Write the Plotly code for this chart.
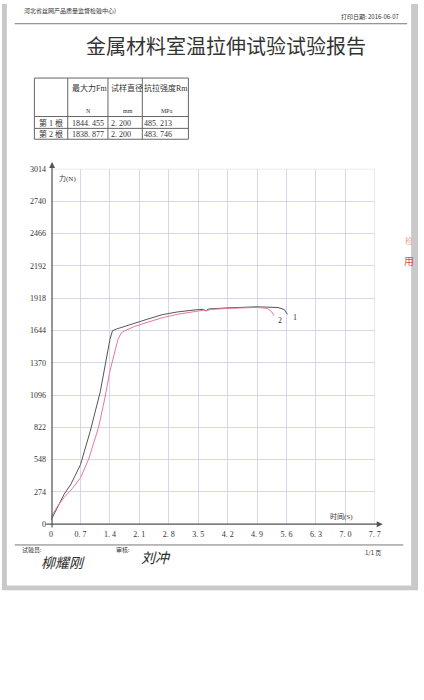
"""Tensile test report chart (force vs time) rebuilt with Plotly."""

import plotly.graph_objects as go

W, H = 424, 700

# --- data -------------------------------------------------------------
TIME_1 = [0, 0.15, 0.31, 0.47, 0.70, 0.93, 1.17, 1.40, 1.46, 1.55, 1.87, 2.30,
          2.64, 3.00, 3.43, 3.62, 3.68, 3.75, 4.20, 4.90, 5.40, 5.55, 5.62]
FORCE_1 = [36, 140, 254, 338, 505, 787, 1123, 1567, 1640, 1655, 1693, 1740,
           1777, 1800, 1818, 1822, 1810, 1826, 1835, 1844, 1838, 1820, 1780]

TIME_2 = [0, 0.15, 0.31, 0.50, 0.70, 0.89, 1.13, 1.28, 1.40, 1.59, 1.67, 1.75,
          2.00, 2.64, 3.00, 3.43, 3.62, 3.70, 3.80, 4.20, 4.90, 5.15, 5.25, 5.30]
FORCE_2 = [59, 150, 226, 300, 394, 548, 822, 1070, 1300, 1567, 1623, 1640,
           1680, 1751, 1780, 1804, 1815, 1810, 1822, 1830, 1839, 1830, 1800, 1770]

X_TICKS = [0, 0.7, 1.4, 2.1, 2.8, 3.5, 4.2, 4.9, 5.6, 6.3, 7.0, 7.7]
X_LABELS = ["0", "0. 7", "1. 4", "2. 1", "2. 8", "3. 5", "4. 2", "4. 9",
            "5. 6", "6. 3", "7. 0", "7. 7"]
Y_TICKS = [0, 274, 548, 822, 1096, 1370, 1644, 1918, 2192, 2466, 2740, 3014]

TABLE_HEAD = ["", "最大力Fm", "试样直径", "抗拉强度Rm"]
TABLE_UNITS = ["", "N", "mm", "MPa"]
TABLE_ROWS = [
    ["第 1 根", "1844. 455", "2. 200", "485. 213"],
    ["第 2 根", "1838. 877", "2. 200", "483. 746"],
]

CJK = "Noto Sans CJK SC"
SERIF = "Liberation Serif, Noto Sans CJK SC"
GRID = "#d6d6ee"
INK = "#333333"


def px(x):
    return x / W


def py(y):
    return 1 - y / H


fig = go.Figure()
fig.add_trace(go.Scatter(x=TIME_1, y=FORCE_1, mode="lines",
                         line=dict(color="#555555", width=1), name="1"))
fig.add_trace(go.Scatter(x=TIME_2, y=FORCE_2, mode="lines",
                         line=dict(color="#e07aa0", width=1), name="2"))

shapes = []
annotations = []

# page background / scan edges
shapes.append(dict(type="rect", xref="paper", yref="paper", x0=0, x1=1,
                   y0=py(594), y1=1, fillcolor="#c9c9c9", line_width=0, layer="below"))
shapes.append(dict(type="rect", xref="paper", yref="paper", x0=px(5), x1=px(417),
                   y0=py(589), y1=1, fillcolor="white", line_width=0, layer="below"))

# header line and footer line
shapes.append(dict(type="line", xref="paper", yref="paper", x0=px(13), x1=px(413),
                   y0=py(20), y1=py(20), line=dict(color="#777", width=1)))
shapes.append(dict(type="line", xref="paper", yref="paper", x0=px(13), x1=px(409),
                   y0=py(548), y1=py(548), line=dict(color="#777", width=1)))

# plot frame in grid colour
shapes.append(dict(type="rect", xref="x", yref="y", x0=0, x1=7.7, y0=0, y1=3014,
                   line=dict(color=GRID, width=1), layer="below"))

# table grid
tx = [33, 67, 108, 143, 190]
ty = [75, 114, 126, 137]
for x in tx:
    shapes.append(dict(type="line", xref="paper", yref="paper", x0=px(x), x1=px(x),
                       y0=py(ty[0]), y1=py(ty[-1]), line=dict(color="#666", width=1)))
for y in ty:
    shapes.append(dict(type="line", xref="paper", yref="paper", x0=px(tx[0]), x1=px(tx[-1]),
                       y0=py(y), y1=py(y), line=dict(color="#666", width=1)))


def text(x, y, s, size=8, xanchor="left", font=CJK, color=INK):
    annotations.append(dict(x=px(x), y=py(y), xref="paper", yref="paper", text=s,
                            showarrow=False, xanchor=xanchor, yanchor="middle",
                            font=dict(family=font, size=size, color=color)))


# header texts
text(20, 7, "河北省丝网产品质量监督检验中心)", size=6)
text(407, 13, "打印日期: 2016-06-07", size=6, xanchor="right")
text(228, 42, "金属材料室温拉伸试验试验报告", size=20, xanchor="center")

# table texts
head_x = [36, 69, 109, 143]
unit_x = [50, 88, 128, 168]
for i, s in enumerate(TABLE_HEAD):
    if s:
        text(head_x[i], 85, s, size=8, font=SERIF)
for i, s in enumerate(TABLE_UNITS):
    if s:
        text(unit_x[i], 108, s, size=6, xanchor="center", font=SERIF)
for r, row in enumerate(TABLE_ROWS):
    for i, s in enumerate(row):
        text(head_x[i], 121 + r * 11, s, size=8, font=SERIF)

# axis titles and curve labels
text(56, 177, "力(N)", size=7, font=SERIF)
text(332, 519, "时间(S)", size=7, font=SERIF)
annotations.append(dict(x=TIME_1[-1] + 0.08, y=FORCE_1[-1] - 30, xref="x", yref="y",
                        text="1", showarrow=False, xanchor="left",
                        font=dict(family=SERIF, size=8, color=INK)))
annotations.append(dict(x=TIME_2[-1] + 0.05, y=FORCE_2[-1] - 40, xref="x", yref="y",
                        text="2", showarrow=False, xanchor="left",
                        font=dict(family=SERIF, size=8, color=INK)))

# axis lines with arrow heads
annotations.append(dict(x=px(51), y=py(160), xref="paper", yref="paper", text="",
                        showarrow=True, ax=0, ay=367, arrowhead=2, arrowsize=1,
                        arrowwidth=1.2, arrowcolor="#555"))
annotations.append(dict(x=px(388), y=py(527), xref="paper", yref="paper", text="",
                        showarrow=True, ax=-338, ay=0, arrowhead=2, arrowsize=1,
                        arrowwidth=1.2, arrowcolor="#555"))

# footer
text(18, 553, "试验员:", size=6)
text(38, 565, "<i>柳耀刚</i>", size=14, color="#2a2a2a")
text(114, 553, "审核:", size=6)
text(140, 560, "<i>刘冲</i>", size=14, color="#2a2a2a")
text(388, 556, "1/1 页", size=6, xanchor="right")

# partial red stamp on the right edge
text(415, 260, "用", size=10, color="#e05050", xanchor="center")
text(415, 240, "检", size=8, color="#f0a0a0", xanchor="center")

fig.update_layout(
    width=W, height=H,
    margin=dict(l=0, r=0, t=0, b=0),
    paper_bgcolor="white", plot_bgcolor="white",
    showlegend=False,
    shapes=shapes, annotations=annotations,
    xaxis=dict(domain=[px(50), px(380)], range=[0, 7.7], tickvals=X_TICKS,
               ticktext=X_LABELS, showgrid=True, gridcolor=GRID, gridwidth=1,
               zeroline=False, showline=False, ticks="", ticklabelstandoff=4,
               tickfont=dict(family=SERIF, size=8, color=INK)),
    yaxis=dict(domain=[py(527), py(167)], range=[0, 3014], tickvals=Y_TICKS,
               showgrid=True, gridcolor=GRID, gridwidth=1, zeroline=False,
               showline=False, ticks="", ticklabelstandoff=4,
               tickfont=dict(family=SERIF, size=8, color=INK)),
    font=dict(family=CJK),
)

# pin the page to the window so the figure sits at the corner, unscaled
PAGE_CSS = "margin:0;padding:0;overflow:hidden;width:424px;height:700px"
fig.write_html(
    "out.html",
    config={"displayModeBar": False},
    post_script=(
        f"document.documentElement.style.cssText='{PAGE_CSS}';"
        f"document.body.style.cssText='{PAGE_CSS}';"
    ),
)
